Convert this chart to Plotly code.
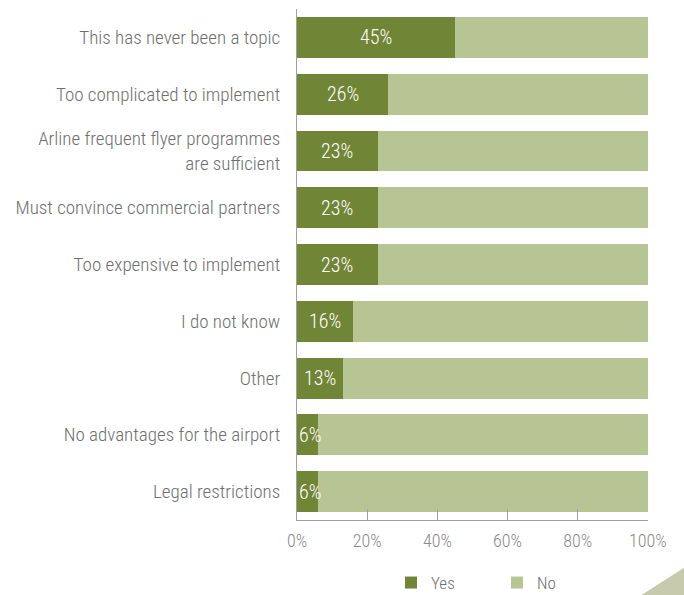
import plotly.graph_objects as go

# Survey answers: reasons for not running an airport loyalty programme
reasons = [
    "This has never been a topic",
    "Too complicated to implement",
    "Arline frequent flyer programmes<br>are sufficient",
    "Must convince commercial partners",
    "Too expensive to implement",
    "I do not know",
    "Other",
    "No advantages for the airport",
    "Legal restrictions",
]
yes_pct = [45, 26, 23, 23, 23, 16, 13, 6, 6]
no_pct = [55, 74, 77, 77, 77, 84, 87, 94, 94]
x_ticks = [0, 20, 40, 60, 80, 100]
x_tick_labels = ["0%", "20%", "40%", "60%", "80%", "100%"]

DARK = "#718536"
LIGHT = "#b7c494"
GREY_TXT = "#6e6e6e"
AXIS = "#a0a0a0"
FONT = "Roboto Condensed, Liberation Sans Narrow, DejaVu Sans Condensed, sans-serif"
WEIGHT = 300

W, H = 684, 595
ML, MR, MT, MB = 297, 36, 9, 75

fig = go.Figure()
fig.add_trace(go.Bar(
    y=reasons, x=yes_pct, name="Yes", orientation="h",
    marker=dict(color=DARK, line=dict(width=0)),
))
fig.add_trace(go.Bar(
    y=reasons, x=no_pct, name="No", orientation="h",
    marker=dict(color=LIGHT, line=dict(width=0)),
))

# white value labels inside the "Yes" segment
for r, v in zip(reasons, yes_pct):
    small = v < 10
    fig.add_annotation(
        x=0 if small else v / 2, y=r, xref="x", yref="y",
        text=f"{v}%", showarrow=False,
        xanchor="left" if small else "center",
        font=dict(family=FONT, size=20, weight=WEIGHT, color="white"),
    )

# decorative corner triangle (pixel positions converted to paper coordinates)
pw, ph = W - ML - MR, H - MT - MB
def px(xp):
    return (xp - ML) / pw
def py(yp):
    return (H - MB - yp) / ph
fig.add_shape(
    type="path", xref="paper", yref="paper",
    path=f"M {px(640)} {py(596)} L {px(685)} {py(567)} L {px(685)} {py(596)} Z",
    fillcolor="#c8caae", line=dict(width=0), layer="above",
)

fig.update_layout(
    width=W, height=H,
    margin=dict(l=ML, r=MR, t=MT, b=MB, autoexpand=False),
    barmode="stack", bargap=0.28,
    plot_bgcolor="white", paper_bgcolor="white",
    font=dict(family=FONT, size=19, weight=WEIGHT, color=GREY_TXT),
    showlegend=True,
    legend=dict(
        orientation="h", x=px(391), xanchor="left",
        yref="container", y=1 - 583 / H, yanchor="middle",
        font=dict(family=FONT, size=17, weight=WEIGHT, color=GREY_TXT),
        entrywidth=61, itemwidth=30, traceorder="normal",
    ),
    xaxis=dict(
        range=[0, 100], tickvals=x_ticks, ticktext=x_tick_labels,
        showgrid=False, zeroline=False, automargin=False,
        showline=True, linecolor=AXIS, linewidth=1,
        ticks="inside", ticklen=11, tickcolor=AXIS, tickwidth=1,
        ticklabelstandoff=4,
        tickfont=dict(family=FONT, size=18, weight=WEIGHT, color="#8a8a8a"),
        fixedrange=True,
    ),
    yaxis=dict(
        autorange="reversed", showgrid=False, zeroline=False, automargin=False,
        showline=True, linecolor=AXIS, linewidth=1,
        ticks="", ticklabelstandoff=12,
        tickfont=dict(family=FONT, size=19, weight=WEIGHT, color=GREY_TXT),
        fixedrange=True,
    ),
)

fig.write_html("out.html")
